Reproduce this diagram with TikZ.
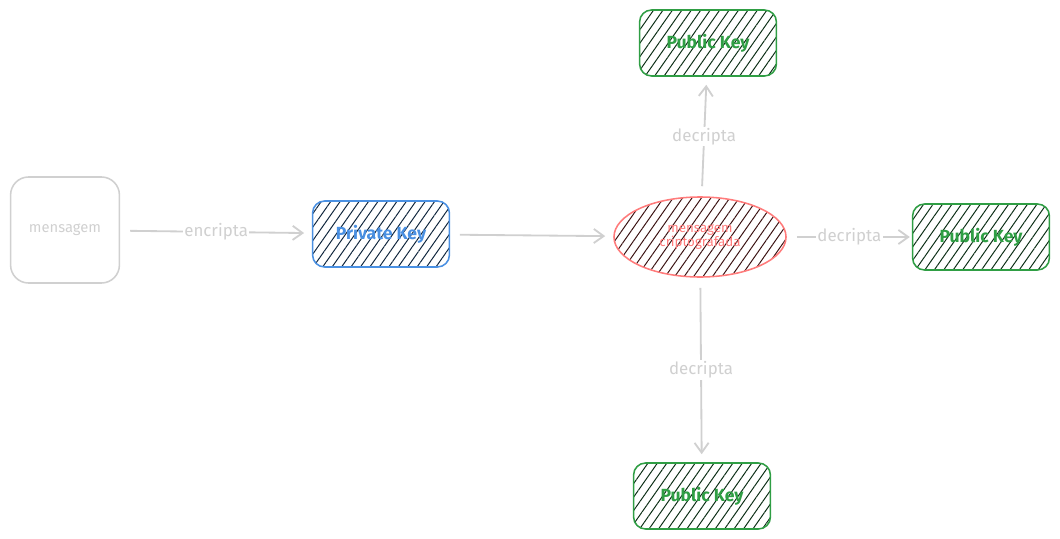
\documentclass[tikz,border=0pt]{standalone}
\usepackage{fontspec}
\setmainfont{Fira Sans}
\usepackage{xcolor}
\usetikzlibrary{positioning}
\usetikzlibrary{arrows.meta}
\usetikzlibrary{patterns.meta}
\usetikzlibrary{shapes.geometric}

\definecolor{linkgray}{HTML}{D0D0D0}
\definecolor{keyblue}{HTML}{4A90E2}
\definecolor{hatchblue}{HTML}{10263D}
\definecolor{keygreen}{HTML}{2F9E44}
\definecolor{hatchgreen}{HTML}{0C2E16}
\definecolor{msgred}{HTML}{FF7B7B}
\definecolor{hatchred}{HTML}{3A1212}

\tikzset{
	keybox/.style={draw, line width=1.1pt, rounded corners=0.3cm, minimum width=3.42cm, minimum height=1.65cm, font=\fontsize{12.5}{14}\selectfont\bfseries},
	hatch/.style={pattern={Lines[angle=55,distance=5.5pt,line width=0.7pt]}, pattern color=#1},
	link/.style={draw=linkgray, line width=1.3pt, -{Straight Barb[length=7pt,width=10pt]}, shorten <=0.25cm, shorten >=0.2cm},
	linklabel/.style={fill=white, text=linkgray, inner sep=1pt, font=\fontsize{12}{14}\selectfont}
}

\begin{document}
\begin{tikzpicture}[x=0.025cm, y=-0.025cm]
	\useasboundingbox (0,0) rectangle (1060,539);
	\node (msg) [draw=linkgray, line width=1.1pt, rounded corners=0.45cm, minimum width=2.72cm, minimum height=2.65cm, text=linkgray, font=\fontsize{10.5}{12}\selectfont] at (65,230) {mensagem};
	\node (priv) [keybox, draw=keyblue, text=keyblue, hatch=hatchblue] at (381,234) {Private Key};
	\node (cipher) [ellipse, draw=msgred, line width=1.1pt, minimum width=4.3cm, minimum height=2cm, inner sep=0pt, align=center, text=msgred, font=\fontsize{9.5}{10}\selectfont, hatch=hatchred] at (700,237) {mensagem\\criptografada};
	\node (pubtop) [keybox, draw=keygreen, text=keygreen, hatch=hatchgreen] at (708,43) {Public Key};
	\node (pubright) [keybox, draw=keygreen, text=keygreen, hatch=hatchgreen] at (981,237) {Public Key};
	\node (pubbottom) [keybox, draw=keygreen, text=keygreen, hatch=hatchgreen] at (702,496) {Public Key};

	\draw [link] (msg) -- node [linklabel] {encripta} (priv);
	\draw [link] (priv) -- (cipher);
	\draw [link] (cipher) -- node [linklabel] {decripta} (pubtop);
	\draw [link, shorten >=0.05cm] (cipher) -- node [linklabel] {decripta} (pubright);
	\draw [link] (cipher) -- node [linklabel] {decripta} (pubbottom);
\end{tikzpicture}
\end{document}
